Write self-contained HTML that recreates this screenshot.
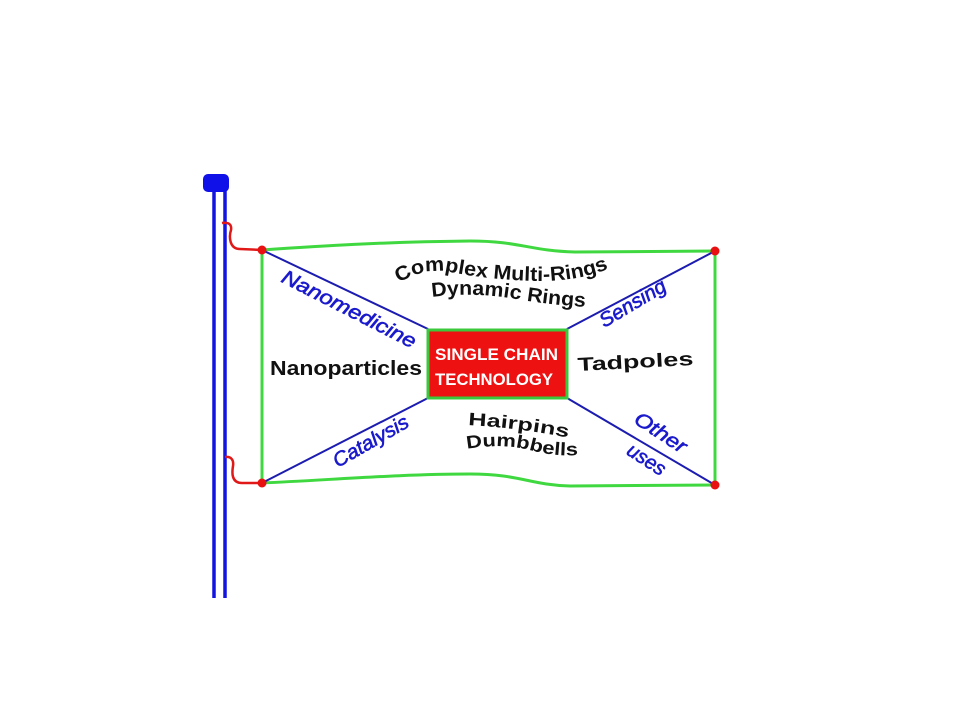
<!DOCTYPE html>
<html>
<head>
<meta charset="utf-8">
<style>
html,body{margin:0;padding:0;background:#fff;}
svg{display:block;}
</style>
</head>
<body>
<svg width="960" height="720" viewBox="0 0 960 720" xmlns="http://www.w3.org/2000/svg">
  <rect width="960" height="720" fill="#ffffff"/>
  <defs>
    <path id="p1" d="M399,283 Q425,266 455,273 Q500,281 545,281 Q585,280 615,266"/>
    <path id="p2" d="M432,297 Q470,292 510,298 Q550,305 587,307"/>
    <path id="p3" d="M468,425 Q520,428 570,438"/>
    <path id="p4" d="M467,449 Q500,443 530,450 Q555,457 580,455"/>
    <path id="p5" d="M578,371 Q635,368 694,365"/>
  </defs>

  <!-- pole -->
  <line x1="214" y1="188" x2="214" y2="598" stroke="#1414e0" stroke-width="3.5"/>
  <line x1="225" y1="188" x2="225" y2="598" stroke="#1414e0" stroke-width="3.5"/>
  <rect x="203" y="174" width="26" height="18" rx="5" fill="#1010e8"/>

  <!-- ropes -->
  <path d="M222,223 C228,222 232,224 231,230 C229,236 229,249 240,249 L262,250" fill="none" stroke="#e01818" stroke-width="2.5"/>
  <path d="M225,457 C231,456 234,460 233,466 C232,472 231,483 242,483 L262,483" fill="none" stroke="#e01818" stroke-width="2.5"/>

  <!-- flag edges -->
  <path d="M262,250 C320,246 380,242 470,241 C520,241 530,251 575,252 L715,251" fill="none" stroke="#40d840" stroke-width="3"/>
  <path d="M262,483 C330,480 400,474 470,474 C520,474 530,485 570,486 L715,485" fill="none" stroke="#40d840" stroke-width="3"/>
  <line x1="262" y1="250" x2="262" y2="483" stroke="#40d840" stroke-width="3"/>
  <line x1="715" y1="251" x2="715" y2="485" stroke="#40d840" stroke-width="3"/>

  <!-- diagonals -->
  <line x1="262" y1="250" x2="428" y2="329" stroke="#1c1cb0" stroke-width="2"/>
  <line x1="715" y1="251" x2="567" y2="329" stroke="#1c1cb0" stroke-width="2"/>
  <line x1="262" y1="483" x2="428" y2="398" stroke="#1c1cb0" stroke-width="2"/>
  <line x1="715" y1="485" x2="567" y2="398" stroke="#1c1cb0" stroke-width="2"/>

  <!-- dots -->
  <circle cx="262" cy="250" r="4.5" fill="#e81010"/>
  <circle cx="715" cy="251" r="4.5" fill="#e81010"/>
  <circle cx="262" cy="483" r="4.5" fill="#e81010"/>
  <circle cx="715" cy="485" r="4.5" fill="#e81010"/>

  <!-- center box -->
  <rect x="428" y="330" width="139" height="68" fill="#ee1111" stroke="#3cc83c" stroke-width="3"/>
  <text x="435" y="360" font-family="Liberation Sans, sans-serif" font-weight="bold" font-size="17" fill="#ffffff" textLength="123" lengthAdjust="spacingAndGlyphs">SINGLE CHAIN</text>
  <text x="435" y="385" font-family="Liberation Sans, sans-serif" font-weight="bold" font-size="17" fill="#ffffff" textLength="118" lengthAdjust="spacingAndGlyphs">TECHNOLOGY</text>

  <!-- blue italic labels -->
  <g font-family="Liberation Sans, sans-serif" font-style="italic" font-size="20" fill="#1a1acc" stroke="#1a1acc" stroke-width="0.6">
    <text transform="translate(346,315) rotate(27)" text-anchor="middle" textLength="148" lengthAdjust="spacingAndGlyphs">Nanomedicine</text>
    <text transform="translate(636,309) rotate(-31)" text-anchor="middle" textLength="74" lengthAdjust="spacingAndGlyphs">Sensing</text>
    <text transform="translate(374,447) rotate(-30)" text-anchor="middle" textLength="84" lengthAdjust="spacingAndGlyphs">Catalysis</text>
    <text transform="translate(657,438) rotate(33)" text-anchor="middle" textLength="58" lengthAdjust="spacingAndGlyphs">Other</text>
    <text transform="translate(643,465) rotate(33)" text-anchor="middle" textLength="42" lengthAdjust="spacingAndGlyphs">uses</text>
  </g>

  <!-- black labels -->
  <g font-family="Liberation Sans, sans-serif" font-weight="bold" fill="#111111">
    <text font-size="20"><textPath href="#p1" textLength="214" lengthAdjust="spacingAndGlyphs">Complex Multi-Rings</textPath></text>
    <text font-size="20"><textPath href="#p2" textLength="154" lengthAdjust="spacingAndGlyphs">Dynamic Rings</textPath></text>
    <text font-size="18"><textPath href="#p3" textLength="101" lengthAdjust="spacingAndGlyphs">Hairpins</textPath></text>
    <text font-size="18"><textPath href="#p4" textLength="112" lengthAdjust="spacingAndGlyphs">Dumbbells</textPath></text>
    <text font-size="19"><textPath href="#p5" textLength="116" lengthAdjust="spacingAndGlyphs">Tadpoles</textPath></text>
    <text x="270" y="375" font-size="20" textLength="152" lengthAdjust="spacingAndGlyphs">Nanoparticles</text>
  </g>
</svg>
</body>
</html>
